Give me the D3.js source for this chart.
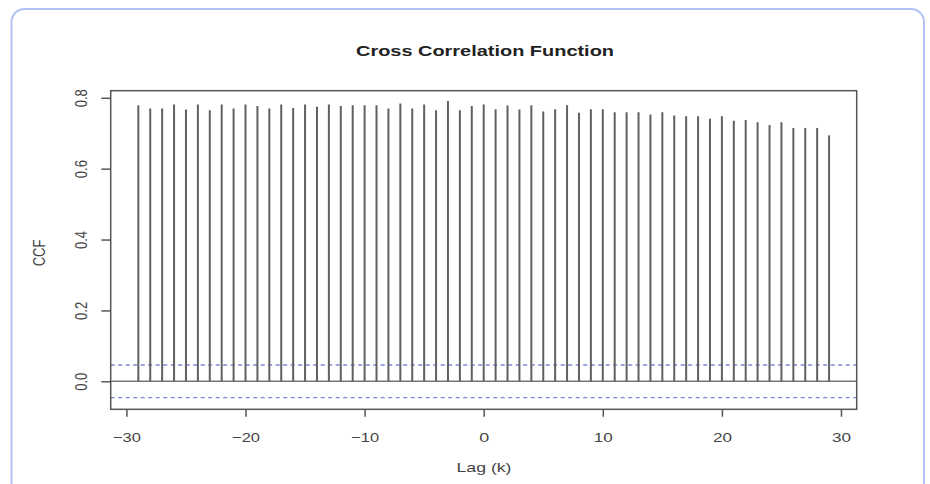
<!DOCTYPE html>
<html>
<head>
<meta charset="utf-8">
<script src="https://cdn.jsdelivr.net/npm/d3@7"></script>
<style>
  html, body { margin: 0; padding: 0; background: #fff; }
  svg { display: block; }
  text { font-family: "Liberation Sans", Arial, Helvetica, sans-serif; fill: #333; }
</style>
</head>
<body>
<svg id="chart" width="930" height="484"></svg>
<script>
// ---- data ----
const lags = d3.range(-29, 30);
const ccfValues = [
  0.779, 0.770, 0.770, 0.781, 0.767, 0.781, 0.765, 0.781, 0.770, 0.781,
  0.777, 0.770, 0.781, 0.771, 0.781, 0.775, 0.781, 0.777, 0.779, 0.779,
  0.779, 0.770, 0.784, 0.770, 0.781, 0.765, 0.791, 0.765, 0.777, 0.781,
  0.768, 0.778, 0.767, 0.779, 0.761, 0.768, 0.779, 0.758, 0.768, 0.768,
  0.759, 0.759, 0.759, 0.753, 0.759, 0.750, 0.748, 0.748, 0.741, 0.748,
  0.735, 0.737, 0.731, 0.723, 0.731, 0.715, 0.715, 0.715, 0.694
];
const confBound = 0.046;
const xTicks = [-30, -20, -10, 0, 10, 20, 30];
const yTicks = [0.0, 0.2, 0.4, 0.6, 0.8];
const titleText = "Cross Correlation Function";
const xLabel = "Lag (k)";
const yLabel = "CCF";

// ---- layout ----
const svg = d3.select("#chart");
const box = { left: 110.7, right: 856.7, top: 90.7, bottom: 409.3 };
const x = d3.scaleLinear().domain([-31.32, 31.32]).range([box.left, box.right]);
const y = d3.scaleLinear().domain([-0.079, 0.82]).range([box.bottom, box.top]);

// outer rounded border
svg.append("rect")
  .attr("x", 11.5).attr("y", 9).attr("width", 912.5).attr("height", 490)
  .attr("rx", 13).attr("ry", 13)
  .attr("fill", "none").attr("stroke", "#b3c2f5").attr("stroke-width", 2);

// title
svg.append("text")
  .attr("x", 485).attr("y", 56)
  .attr("text-anchor", "middle")
  .attr("font-size", 15).attr("font-weight", "bold").style("fill", "#222")
  .attr("textLength", 258).attr("lengthAdjust", "spacingAndGlyphs")
  .text(titleText);

// confidence bounds
[confBound, -confBound].forEach(v => {
  svg.append("line")
    .attr("x1", box.left).attr("x2", box.right)
    .attr("y1", y(v)).attr("y2", y(v))
    .attr("stroke", "#7a88dc").attr("stroke-width", 1.3)
    .attr("stroke-dasharray", "4,3.5");
});

// zero line
svg.append("line")
  .attr("x1", box.left).attr("x2", box.right)
  .attr("y1", y(0)).attr("y2", y(0))
  .attr("stroke", "#777").attr("stroke-width", 1.4);

// bars (spikes)
svg.append("g").selectAll("line")
  .data(lags.map((l, i) => ({ lag: l, v: ccfValues[i] })))
  .join("line")
  .attr("x1", d => x(d.lag)).attr("x2", d => x(d.lag))
  .attr("y1", y(0)).attr("y2", d => y(d.v))
  .attr("stroke", "#606060").attr("stroke-width", 2);

// frame
svg.append("rect")
  .attr("x", box.left).attr("y", box.top)
  .attr("width", box.right - box.left).attr("height", box.bottom - box.top)
  .attr("fill", "none").attr("stroke", "#555").attr("stroke-width", 1.5);

// x axis
const xAxis = d3.axisBottom(x).tickValues(xTicks).tickSize(7).tickPadding(0)
  .tickFormat(d => d3.format("d")(d).replace("-", "\u2212"));
const gx = svg.append("g").attr("transform", `translate(0,${box.bottom + 0.5})`).call(xAxis);
gx.select(".domain").remove();
gx.selectAll(".tick line").attr("stroke", "#555").attr("stroke-width", 1.5);
gx.selectAll(".tick text")
  .attr("y", 32).attr("dy", null)
  .attr("font-size", 13).style("fill", "#444")
  .attr("font-family", null)
  .each(function(d) {
    const s = this.textContent;
    const w = s.length === 1 ? 10 : (s.length === 2 ? 19 : 28);
    d3.select(this).attr("textLength", w).attr("lengthAdjust", "spacingAndGlyphs");
  });

// y axis
const yAxis = d3.axisLeft(y).tickValues(yTicks).tickSize(9).tickFormat(d3.format(".1f"));
const gy = svg.append("g").attr("transform", `translate(${box.left - 0.3},0)`).call(yAxis);
gy.select(".domain").remove();
gy.selectAll(".tick line").attr("stroke", "#555").attr("stroke-width", 1.5);
gy.selectAll(".tick text").remove();
gy.selectAll(".tick").append("text")
  .attr("transform", "translate(-23.8,0) scale(1.3,1) rotate(-90)")
  .attr("text-anchor", "middle")
  .attr("font-size", 13).style("fill", "#444")
  .text(d => d3.format(".1f")(d));

// axis labels
svg.append("text")
  .attr("x", 484).attr("y", 472)
  .attr("text-anchor", "middle")
  .attr("font-size", 13).style("fill", "#444")
  .attr("textLength", 55).attr("lengthAdjust", "spacingAndGlyphs")
  .text(xLabel);

svg.append("text")
  .attr("transform", `translate(45,253) scale(1.3,1) rotate(-90)`)
  .attr("text-anchor", "middle")
  .attr("font-size", 13).style("fill", "#444")
  .text(yLabel);
</script>
</body>
</html>
